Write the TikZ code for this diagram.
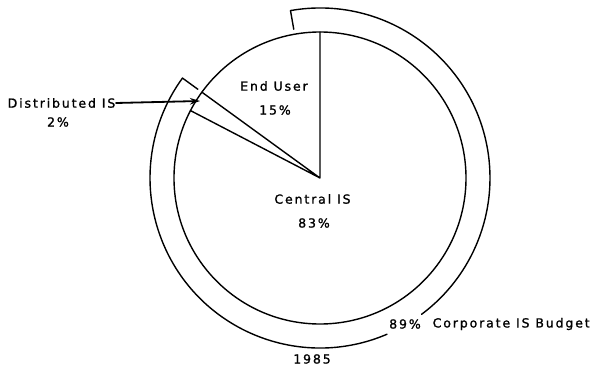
\documentclass[tikz,border=0pt]{standalone}
\usepackage{fontspec}
\setmainfont{DejaVu Sans}[LetterSpace=15,FakeBold=1.2]
\usetikzlibrary{arrows.meta}
\begin{document}
\begin{tikzpicture}[>={Stealth[length=10pt,width=6.5pt]},line join=round,line cap=round,x=1pt,y=1pt,line width=1.4pt,
	font=\fontsize{12.5}{14}\selectfont,lbl/.style={inner sep=0pt}]
	\def\r{146pt} \def\R{170pt} \def\t{151pt}
	\useasboundingbox (-320,-189) rectangle (276,178);
	\coordinate (O) at (0,0);
	% pie
	\draw (O) circle(\r);
	\draw (O)--(90:\r) (O)--(144:\r) (O)--(152.5:\r);
	% outer ring, 89%
	\draw (100:\t)--(100:\R) arc(100:-53.3:\R);
	\draw (-66.8:\R) arc(-66.8:-216:\R)--(144:\t);
	% labels
	\node[lbl] (eu) at (-46,92) {End User};
	\node[lbl] (eup) at (-45,68) {15\%};
	\node[lbl] (cis) at (-7.5,-21) {Central IS};
	\node[lbl] (cisp) at (-6,-45) {83\%};
	\node[lbl,anchor=east] (dis) at (-204,75) {Distributed IS};
	\node[lbl] (disp) at (-262,56) {2\%};
	\coordinate (tip) at (-120,77);
	\draw[->,line width=1.8pt] (dis.east)--(tip);
	\node[lbl] (bp) at (85,-146) {89\%};
	\node[lbl,anchor=west] (bud) at (112,-146) {Corporate IS Budget};
	\node[lbl] (yr) at (-8,-181) {1985};
\end{tikzpicture}
\end{document}
